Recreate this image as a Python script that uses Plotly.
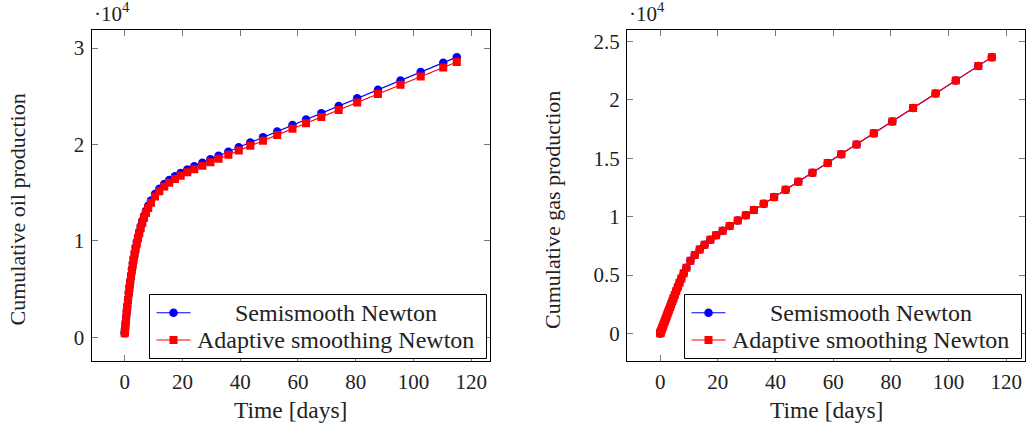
import plotly.graph_objects as go

# ---------------- data ----------------
time_days = [0, 0.05, 0.15, 0.3, 0.5, 0.7, 0.9, 1.15, 1.4, 1.65, 1.9, 2.2, 2.5, 2.8, 3.1,
             3.45, 3.8, 4.2, 4.6, 5.05, 5.55, 6.1, 6.7, 7.35, 8.15, 9.1, 10.5, 12.0, 13.7,
             15.4, 17.4, 19.4, 21.7, 24.1, 26.9, 29.7, 32.5, 35.9, 39.5, 43.5, 47.9, 52.8,
             58.1, 62.8, 68.1, 74.1, 80.5, 87.7, 95.5, 102.5, 110.3, 115]

oil_semismooth = [400, 573, 913, 1407, 2043, 2650, 3232, 3921, 4576, 5194, 5780, 6440, 7059,
                  7639, 8181, 8772, 9320, 9898, 10429, 10976, 11527, 12071, 12600, 13105,
                  13647, 14193, 14849, 15404, 15904, 16310, 16706, 17048, 17398, 17735, 18108,
                  18469, 18823, 19250, 19698, 20194, 20740, 21347, 22004, 22587, 23244, 23988,
                  24782, 25675, 26642, 27510, 28477, 29060]

oil_adaptive = [393, 563, 897, 1383, 2008, 2605, 3177, 3854, 4498, 5106, 5682, 6331, 6939,
                7509, 8042, 8623, 9162, 9730, 10252, 10789, 11331, 11866, 12386, 12882, 13415,
                13952, 14597, 15142, 15634, 16033, 16422, 16758, 17102, 17434, 17800, 18155,
                18503, 18923, 19363, 19851, 20387, 20984, 21630, 22203, 22849, 23580, 24361,
                25239, 26189, 27042, 27993, 28566]

gas_semismooth = [0, 30, 100, 200, 330, 460, 590, 750, 920, 1080, 1240, 1440, 1630, 1830, 2020,
                  2250, 2480, 2740, 3000, 3290, 3610, 3960, 4330, 4710, 5150, 5620, 6220, 6720,
                  7180, 7600, 8020, 8400, 8800, 9200, 9660, 10110, 10560, 11100, 11670, 12300,
                  12990, 13760, 14600, 15340, 16180, 17130, 18150, 19300, 20540, 21660, 22900,
                  23660]

gas_adaptive = [0, 30, 100, 200, 330, 460, 590, 750, 920, 1080, 1240, 1440, 1630, 1830, 2020,
                2250, 2480, 2740, 3000, 3290, 3610, 3960, 4330, 4710, 5150, 5620, 6220, 6720,
                7180, 7600, 8020, 8400, 8800, 9200, 9660, 10110, 10560, 11100, 11670, 12300,
                12990, 13760, 14600, 15340, 16180, 17130, 18150, 19300, 20540, 21660, 22900,
                23660]

x_ticks = [0, 20, 40, 60, 80, 100, 120]
oil_ticks = [0, 10000, 20000, 30000]
oil_tick_labels = ["0", "1", "2", "3"]
gas_ticks = [0, 5000, 10000, 15000, 20000, 25000]
gas_tick_labels = ["0", "0.5", "1", "1.5", "2", "2.5"]
series_names = ["Semismooth Newton", "Adaptive smoothing Newton"]

# ---------------- styling ----------------
W, H = 1027, 428
FONT = "Liberation Serif"
FS = 21
TXT = "#222222"
BLUE = "#0000ff"
RED = "#ff0000"


def px(x):
    return x / W


def py(y):
    return 1 - y / H


fig = go.Figure()

for xa, ya, ys, ya_ in [("x", "y", oil_semismooth, oil_adaptive),
                        ("x2", "y2", gas_semismooth, gas_adaptive)]:
    fig.add_trace(go.Scatter(x=time_days, y=ys, mode="lines+markers", name=series_names[0],
                             line=dict(color=BLUE, width=1.1),
                             marker=dict(symbol="circle", size=8.5, color=BLUE),
                             xaxis=xa, yaxis=ya, showlegend=False))
    fig.add_trace(go.Scatter(x=time_days, y=ya_, mode="lines+markers", name=series_names[1],
                             line=dict(color=RED, width=1.1),
                             marker=dict(symbol="square", size=8, color=RED),
                             xaxis=xa, yaxis=ya, showlegend=False))

axis_common = dict(showline=True, linecolor="black", linewidth=1, mirror="ticks",
                   ticks="inside", ticklen=6, tickwidth=1, tickcolor="#777777",
                   showgrid=False, zeroline=False, ticklabelstandoff=2,
                   tickfont=dict(family=FONT, size=FS, color=TXT))

left_box = (91.5, 490, 29.5, 361)
right_box = (627, 1025, 29.5, 361)

fig.update_layout(
    width=W, height=H,
    margin=dict(l=0, r=0, t=0, b=0),
    paper_bgcolor="white", plot_bgcolor="white",
    xaxis=dict(domain=[px(left_box[0]), px(left_box[1])], range=[-11.5, 126.5],
               tickvals=x_ticks, anchor="y", **axis_common),
    yaxis=dict(domain=[py(left_box[3]), py(left_box[2])], range=[-2474, 31927],
               tickvals=oil_ticks, ticktext=oil_tick_labels, anchor="x", **axis_common),
    xaxis2=dict(domain=[px(right_box[0]), px(right_box[1])], range=[-11.5, 126.5],
                tickvals=x_ticks, anchor="y2", **axis_common),
    yaxis2=dict(domain=[py(right_box[3]), py(right_box[2])], range=[-2366, 26026],
                tickvals=gas_ticks, ticktext=gas_tick_labels, anchor="x2", **axis_common),
    font=dict(family=FONT, size=FS, color=TXT),
)

annotations = []
shapes = []
for box, ylabel in [(left_box, "Cumulative oil production"),
                    (right_box, "Cumulative gas production")]:
    x0, x1, y0, y1 = box
    # x-axis title
    annotations.append(dict(text="Time [days]", x=px((x0 + x1) / 2), y=py(410),
                            xref="paper", yref="paper", showarrow=False,
                            xanchor="center", yanchor="middle",
                            font=dict(family=FONT, size=23.5, color=TXT)))
    # y-axis title
    annotations.append(dict(text=ylabel, x=px(x0 - 75), y=py(210),
                            xref="paper", yref="paper", showarrow=False, textangle=-90,
                            xanchor="center", yanchor="middle",
                            font=dict(family=FONT, size=22, color=TXT)))
    # scale factor
    annotations.append(dict(text="\u00b710<sup>4</sup>", x=px(x0), y=py(y0 - 1),
                            xref="paper", yref="paper", showarrow=False,
                            xanchor="left", yanchor="bottom",
                            font=dict(family=FONT, size=FS, color=TXT)))
    # legend box
    lx0, lx1 = x1 - 340.5, x1 - 3.5
    ly0, ly1 = 294.5, 358.5
    shapes.append(dict(type="rect", xref="paper", yref="paper",
                       x0=px(lx0), x1=px(lx1), y0=py(ly1), y1=py(ly0),
                       line=dict(color="black", width=1), fillcolor="white", layer="above"))
    rows = [(312.7, BLUE, "circle", series_names[0]), (340, RED, "square", series_names[1])]
    for ry, col, sym, label in rows:
        sx0, sx1 = lx0 + 7, lx0 + 41
        sc = (sx0 + sx1) / 2
        shapes.append(dict(type="line", xref="paper", yref="paper",
                           x0=px(sx0), x1=px(sx1), y0=py(ry), y1=py(ry),
                           line=dict(color=col, width=1.1), layer="above"))
        r = 4.3 if sym == "circle" else 4.0
        shapes.append(dict(type="circle" if sym == "circle" else "rect",
                           xref="paper", yref="paper",
                           x0=px(sc - r), x1=px(sc + r), y0=py(ry + r), y1=py(ry - r),
                           line=dict(width=0), fillcolor=col, layer="above"))
        annotations.append(dict(text=label, x=px(lx0 + 186), y=py(ry), xref="paper",
                                yref="paper", showarrow=False, xanchor="center",
                                yanchor="middle",
                                font=dict(family=FONT, size=24, color=TXT)))

fig.update_layout(annotations=annotations, shapes=shapes)
fig.write_html("out.html", config={"displayModeBar": False},
               post_script="document.body.style.margin='0';document.body.style.padding='0';")
